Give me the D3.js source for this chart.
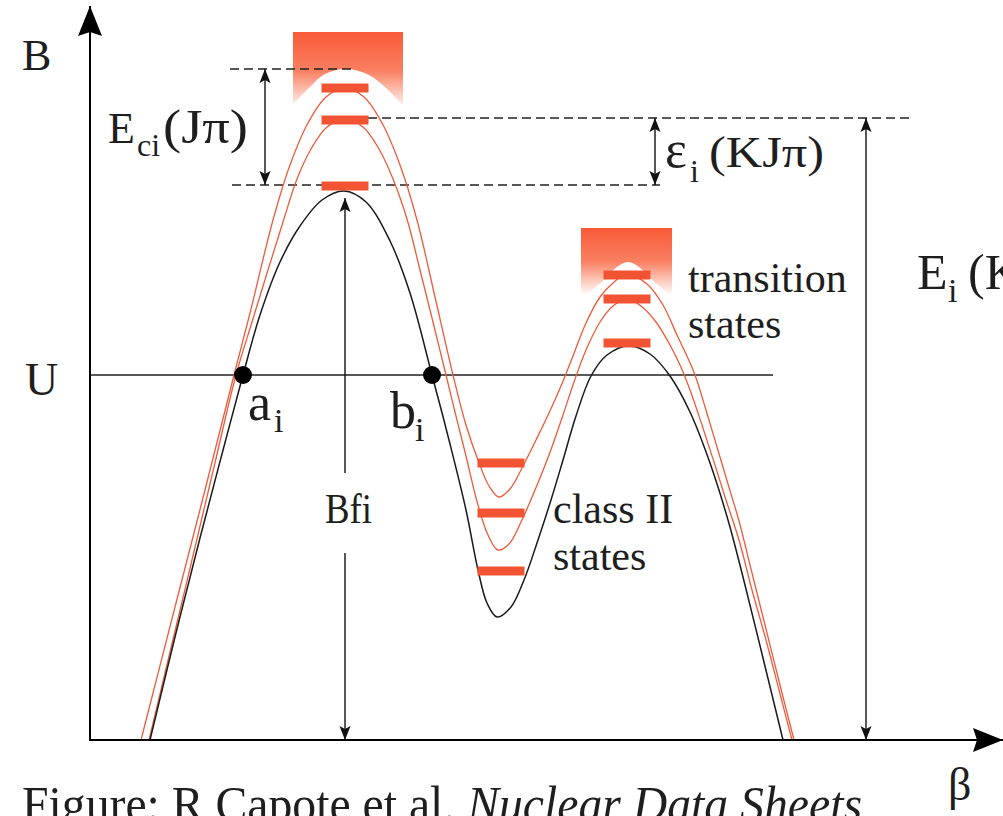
<!DOCTYPE html>
<html>
<head>
<meta charset="utf-8">
<script src="https://cdn.jsdelivr.net/npm/d3@7"></script>
<style>
  html, body { margin: 0; padding: 0; background: #fff; }
  svg { display: block; }
</style>
</head>
<body>
<svg id="chart" width="1003" height="816"></svg>
<script>
// diagram units: beta along x, barrier height B along y (arbitrary units)

// fission barrier (black) : [beta, B]
const barrier = [
  [60, 0], [85, 103], [110, 202], [132, 286], [153, 365], [170, 425], [190, 478],
  [210, 514], [232, 540], [254, 549], [276, 538], [300, 499], [320, 447], [342, 365],
  [359, 300], [376, 230], [388, 170], [397, 137], [407, 123], [421, 133], [434, 160],
  [448, 200], [461, 240], [473, 280], [486, 324], [501, 364], [517, 385], [539, 394],
  [560, 386], [580, 364], [600, 328], [620, 277], [638, 220], [653, 163], [673, 82],
  [693, 0]
];

// effective barrier for the highest transition state
const barrierUpper = [
  [51, 0], [85, 133], [115, 250], [144, 365], [160, 427], [183, 520], [200, 575],
  [218, 617], [236, 643], [255, 652], [274, 643], [292, 617], [310, 575], [327, 520],
  [345, 443], [363, 365], [376, 315], [388, 280], [399, 254], [409, 243], [420, 251],
  [432, 272], [446, 300], [459, 327], [471, 354], [483, 384], [496, 417], [510, 443],
  [523, 457], [537, 466], [557, 456], [573, 435], [587, 405], [596, 386], [605, 365],
  [616, 330], [627, 293], [638, 256], [649, 219], [662, 167], [676, 111], [690, 55],
  [704, 0]
];

// effective barrier for the middle transition state
const barrierMiddle = [
  [59, 0], [80, 88], [102, 180], [124, 273], [146, 365], [162, 418], [178, 470],
  [193, 518], [207, 561], [221, 591], [237, 613], [255, 621], [273, 613], [289, 591],
  [303, 561], [317, 521], [330, 470], [343, 418], [356, 365], [365, 328], [375, 288],
  [388, 235], [398, 205], [408, 190], [419, 196], [431, 218], [445, 250], [459, 285],
  [473, 325], [484, 358], [496, 390], [510, 418], [523, 434], [537, 441], [551, 434],
  [566, 418], [580, 395], [590, 375], [600, 350], [612, 315], [624, 278], [636, 240],
  [649, 200], [662, 150], [676, 100], [689, 50], [702, 0]
];

// discrete levels: stack position (beta) and level heights (B)
const stackBeta = [255, 411, 537];
const peak1Levels = [652, 620, 554];
const wellLevels = [277, 227, 169];
const peak2Levels = [465, 441, 397];

// continuum boxes above the humps: [beta0, beta1, Btop, Bbottom]
const continuum1 = [203, 313, 708, 630];
const continuum2 = [491, 582, 512, 445];
// lower edge of the continuum
const edge1 = [[193, 626], [210, 643], [220, 653], [235, 666], [256, 671], [277, 666], [295, 653], [305, 643], [322, 626]];
const edge2 = [[488, 440], [502, 450], [516, 462], [527, 473], [538, 478], [549, 473], [560, 462], [574, 450], [588, 440]];

// reference energies
const U = 365;
const crossings = [153, 342];          // a_i, b_i
const dashedGuides = [                 // [B, beta0, beta1]
  [671, 140, 265],
  [622, 278, 820],
  [555, 142, 570]
];

const FONT = '"Liberation Serif", "DejaVu Serif", "Noto Serif", "Nimbus Roman", "FreeSerif", Tinos, "Times New Roman", Times, serif';

const svg = d3.select("#chart");
const x = d3.scaleLinear().domain([0, 913]).range([90, 1003]);
const y = d3.scaleLinear().domain([0, 734]).range([740, 6]);

const defs = svg.append("defs");
const grad = defs.append("linearGradient").attr("id", "cont")
  .attr("x1", 0).attr("y1", 0).attr("x2", 0).attr("y2", 1);
grad.append("stop").attr("offset", 0).attr("stop-color", "#f85a38");
grad.append("stop").attr("offset", 0.5).attr("stop-color", "#fa8062");
grad.append("stop").attr("offset", 1).attr("stop-color", "#ffffff");

defs.append("marker").attr("id", "tip")
  .attr("viewBox", "0 -6 14 12").attr("refX", 14).attr("refY", 0)
  .attr("markerWidth", 14).attr("markerHeight", 12)
  .attr("markerUnits", "userSpaceOnUse").attr("orient", "auto-start-reverse")
  .append("path").attr("d", "M0,-5.5L14,0L0,5.5L3,0Z").attr("fill", "#111");

defs.append("marker").attr("id", "bigTip")
  .attr("viewBox", "0 -12 30 24").attr("refX", 30).attr("refY", 0)
  .attr("markerWidth", 30).attr("markerHeight", 24)
  .attr("markerUnits", "userSpaceOnUse").attr("orient", "auto")
  .append("path").attr("d", "M0,-12L30,0L0,12L4,0Z").attr("fill", "#000");

const line = d3.line()
  .x(d => x(d[0])).y(d => y(d[1]))
  .curve(d3.curveCatmullRom.alpha(0.5));

// continuum boxes with white cut-out under the barrier
[[continuum1, edge1], [continuum2, edge2]].forEach(([b, edge]) => {
  svg.append("rect")
    .attr("x", x(b[0])).attr("y", y(b[2]))
    .attr("width", x(b[1]) - x(b[0])).attr("height", y(b[3]) - y(b[2]))
    .attr("fill", "url(#cont)");
  svg.append("path")
    .datum(edge)
    .attr("fill", "#fff")
    .attr("d", d3.area().x(d => x(d[0])).y0(y(b[3]) + 3).y1(d => y(d[1]))
      .curve(d3.curveCatmullRom.alpha(0.5)));
});

// dashed guides
svg.append("g").selectAll("line").data(dashedGuides).join("line")
  .attr("x1", d => x(d[1])).attr("x2", d => x(d[2]))
  .attr("y1", d => y(d[0])).attr("y2", d => y(d[0]))
  .attr("stroke", "#222").attr("stroke-width", 1.3).attr("stroke-dasharray", "9,5");

// U level
svg.append("line")
  .attr("x1", x(0)).attr("x2", x(683)).attr("y1", y(U)).attr("y2", y(U))
  .attr("stroke", "#222").attr("stroke-width", 1.4);

// barrier curves
svg.append("path").datum(barrierUpper).attr("d", line)
  .attr("fill", "none").attr("stroke", "#ee5a3c").attr("stroke-width", 1.3);
svg.append("path").datum(barrierMiddle).attr("d", line)
  .attr("fill", "none").attr("stroke", "#ee5a3c").attr("stroke-width", 1.3);
svg.append("path").datum(barrier).attr("d", line)
  .attr("fill", "none").attr("stroke", "#1a1a1a").attr("stroke-width", 1.5);

// level bars
const levelStacks = [peak1Levels, wellLevels, peak2Levels];
const barHalf = 23.5, barH = 9;
svg.append("g").selectAll("g").data(levelStacks).join("g")
  .selectAll("rect").data((d, i) => d.map(B => [stackBeta[i], B])).join("rect")
    .attr("x", d => x(d[0] - barHalf)).attr("y", d => y(d[1]) - barH / 2)
    .attr("width", x(barHalf * 2) - x(0)).attr("height", barH)
    .attr("fill", "#f25433");

// arrows
function arrow(b, B0, B1, both) {
  const l = svg.append("line")
    .attr("x1", x(b)).attr("x2", x(b)).attr("y1", y(B0)).attr("y2", y(B1))
    .attr("stroke", "#111").attr("stroke-width", 1.4)
    .attr("marker-end", "url(#tip)");
  if (both) l.attr("marker-start", "url(#tip)");
}
arrow(175, 671, 555, true);            // E_ci
arrow(565, 622, 555, true);            // eps_i
arrow(776, 622, 0, true);              // E_i
arrow(255, 267, 542, false);           // B_fi up
arrow(255, 187, 0, false);             // B_fi down

// turning points
svg.append("g").selectAll("circle").data(crossings).join("circle")
  .attr("cx", d => x(d)).attr("cy", y(U)).attr("r", 9).attr("fill", "#000");

// axes
svg.append("line")
  .attr("x1", x(0)).attr("x2", x(0)).attr("y1", y(0) + 1).attr("y2", y(734))
  .attr("stroke", "#000").attr("stroke-width", 2).attr("marker-end", "url(#bigTip)");
svg.append("line")
  .attr("x1", x(0)).attr("x2", x(913)).attr("y1", y(0)).attr("y2", y(0))
  .attr("stroke", "#000").attr("stroke-width", 2).attr("marker-end", "url(#bigTip)");

// labels
function label(str, b, B, size, opts = {}) {
  const t = svg.append("text").attr("x", x(b)).attr("y", y(B))
    .attr("font-family", FONT).attr("fill", "#1e1e1e")
    .attr("font-size", size).text(str);
  if (opts.len) t.attr("textLength", opts.len).attr("lengthAdjust", "spacingAndGlyphs");
  if (opts.italic) t.attr("font-style", "italic");
  return t;
}
label("B", -68, 670, 44);
label("U", -65, 345, 46);
label("E", 18, 597, 44);
label("ci", 47, 584, 32);
label("(J\u03c0)", 73, 597, 48, { len: 85 });
label("\u03b5", 575, 573, 52);
label("i", 600, 558, 32);
label("(KJ\u03c0)", 619, 573, 44, { len: 115 });
label("E", 827, 451, 50);
label("i", 858, 438, 34);
label("(K", 878, 451, 50);
label("a", 158, 320, 52);
label("i", 184, 308, 34);
label("b", 300, 312, 52);
label("i", 325, 299, 34);
label("Bfi", 235, 217, 42, { len: 47 });
label("transition", 598, 448, 42);
label("states", 598, 402, 42);
label("class II", 463, 217, 42);
label("states", 463, 170, 42);
label("\u03b2", 858, -60, 46);

const cap = svg.append("text").attr("x", x(-68)).attr("y", y(-81))
  .attr("font-family", FONT).attr("fill", "#1e1e1e")
  .attr("font-size", 50).attr("textLength", 840).attr("lengthAdjust", "spacingAndGlyphs");
cap.append("tspan").text("Figure: R Capote et al. ");
cap.append("tspan").attr("font-style", "italic").text("Nuclear Data Sheets");
</script>
</body>
</html>
